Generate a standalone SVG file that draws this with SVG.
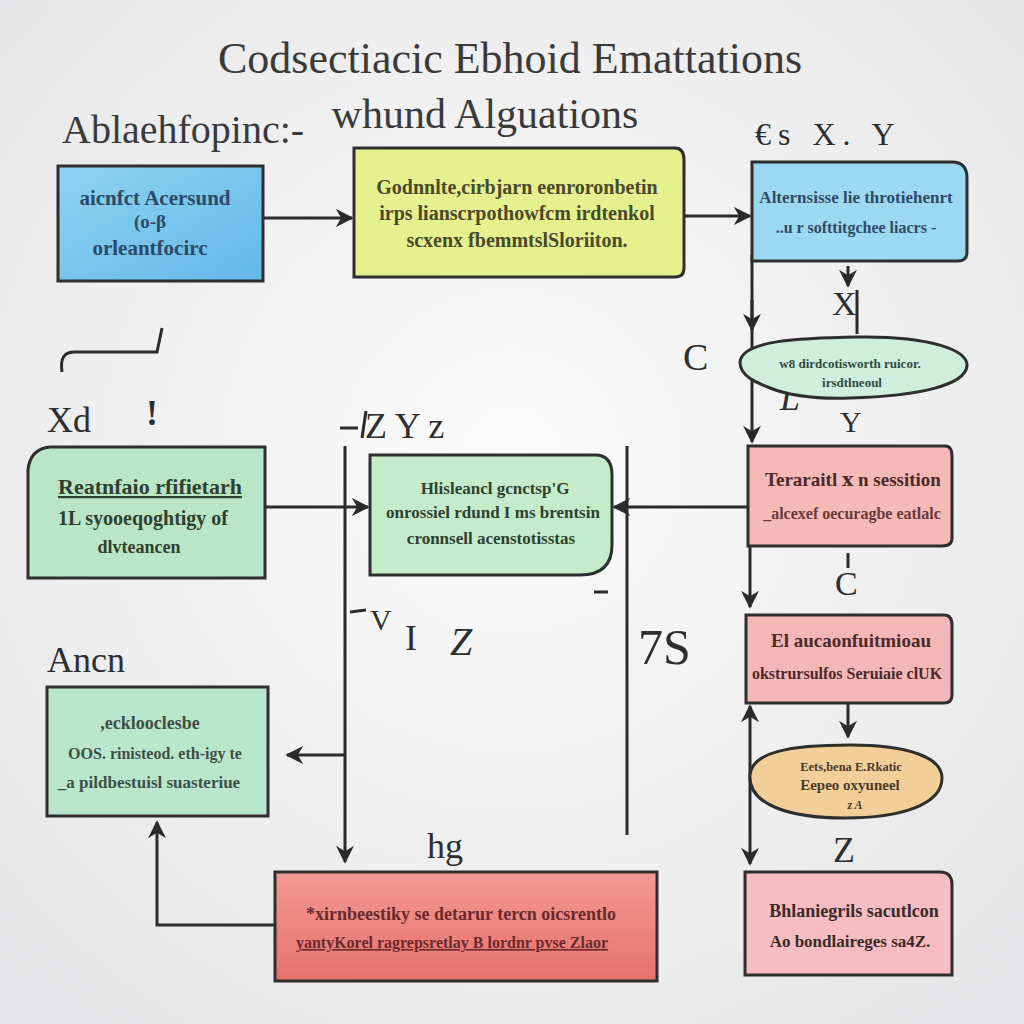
<svg xmlns="http://www.w3.org/2000/svg" width="1024" height="1024" viewBox="0 0 1024 1024">
<defs>
<radialGradient id="bg" cx="50%" cy="45%" r="70%"><stop offset="0" stop-color="#fbfbfb"/><stop offset="1" stop-color="#e6e6e8"/></radialGradient>
<linearGradient id="gBlue" x1="0" y1="0" x2="1" y2="1"><stop offset="0" stop-color="#8fd3f2"/><stop offset="1" stop-color="#62b8e8"/></linearGradient>
<linearGradient id="gRed" x1="0" y1="0" x2="0" y2="1"><stop offset="0" stop-color="#f29a94"/><stop offset="1" stop-color="#e8706c"/></linearGradient>
<marker id="ah" viewBox="0 0 10 10" refX="9" refY="5" markerWidth="6" markerHeight="6" orient="auto-start-reverse"><path d="M0,0 L10,5 L0,10 L3,5 z" fill="#2b2b2b"/></marker>
<marker id="av" viewBox="0 0 10 10" refX="9" refY="5" markerWidth="6" markerHeight="6" orient="auto-start-reverse"><path d="M0,0 L10,5 L0,10 L3,5 z" fill="#2b2b2b"/></marker>
</defs>
<style>
.t{font-family:"Liberation Serif","DejaVu Serif",serif;fill:#3a3a3a;}
.lab{fill:#2e2e2e;}
.nt{font-family:"Liberation Serif","DejaVu Serif",serif;font-weight:bold;text-anchor:middle;}
.bx{stroke:#2e2e2e;stroke-width:3;}
.c{fill:none;stroke:#2b2b2b;stroke-width:3;}
</style>
<rect width="1024" height="1024" fill="url(#bg)"/>

<g id="titles">
<text class="t" x="510" y="73" text-anchor="middle" font-size="44">Codsectiacic Ebhoid  Emattations</text>
<text class="t" x="485" y="128" text-anchor="middle" font-size="42">whund Alguations</text>
<text class="t" x="62" y="143" font-size="40">Ablaehfopinc:-</text>
</g>

<g id="labels">
<text class="t lab" x="755" y="145" font-size="32" letter-spacing="7">€s   X.   Y</text>
<text class="t lab" x="832" y="315" font-size="34">X</text>
<text class="t lab" x="683" y="370" font-size="38">C</text>
<text class="t lab" x="780" y="410" font-size="36" font-style="italic">L</text>
<text class="t lab" x="840" y="432" font-size="30">Y</text>
<text class="t lab" x="47" y="432" font-size="36">Xd</text>
<text class="t lab" x="146" y="425" font-size="36" font-weight="bold">!</text>
<text class="t lab" x="365" y="438" font-size="36">Z  Y  z</text>
<text class="t lab" x="370" y="630" font-size="30">V</text>
<text class="t lab" x="405" y="650" font-size="36">I</text>
<text class="t lab" x="450" y="655" font-size="40" font-style="italic">Z</text>
<text class="t lab" x="638" y="664" font-size="50">7S</text>
<text class="t lab" x="835" y="595" font-size="34">C</text>
<text class="t lab" x="833" y="862" font-size="36">Z</text>
<text class="t lab" x="427" y="858" font-size="36">hg</text>
<text class="t lab" x="47" y="672" font-size="36">Ancn</text>
</g>

<g id="connectors">
<line class="c" x1="263" y1="218" x2="352" y2="218" marker-end="url(#ah)"/>
<line class="c" x1="684" y1="216" x2="750" y2="216" marker-end="url(#ah)"/>
<line class="c" x1="752" y1="255" x2="752" y2="442" marker-end="url(#av)"/>
<line class="c" x1="752" y1="300" x2="752" y2="330" marker-end="url(#av)"/>
<line class="c" x1="848" y1="266" x2="848" y2="286" marker-end="url(#av)" stroke-width="2"/>
<line class="c" x1="857" y1="290" x2="857" y2="334" stroke-width="2"/>
<path class="c" d="M62,372 C60,358 64,352 75,352 L157,352 L162,328"/>
<line class="c" x1="340" y1="428" x2="358" y2="428" stroke-width="2"/>
<line class="c" x1="366" y1="411" x2="362" y2="438" stroke-width="3"/>
<line class="c" x1="265" y1="507" x2="368" y2="507" marker-end="url(#ah)"/>
<line class="c" x1="345" y1="446" x2="345" y2="862" marker-end="url(#av)"/>
<line class="c" x1="627" y1="446" x2="627" y2="835"/>
<line class="c" x1="748" y1="507" x2="614" y2="507" marker-end="url(#ah)"/>
<line class="c" x1="750" y1="546" x2="750" y2="607" marker-end="url(#av)"/>
<line class="c" x1="848" y1="553" x2="848" y2="568" stroke-width="2"/>
<line class="c" x1="848" y1="703" x2="848" y2="737" marker-end="url(#av)"/>
<line class="c" x1="750" y1="706" x2="750" y2="864" marker-start="url(#av)" marker-end="url(#av)"/>
<line class="c" x1="345" y1="755" x2="287" y2="755" marker-end="url(#ah)"/>
<path class="c" d="M275,925 L157,925 L157,822" marker-end="url(#av)"/>
<line class="c" x1="350" y1="612" x2="366" y2="610" stroke-width="2"/>
<line class="c" x1="594" y1="592" x2="608" y2="592" stroke-width="2"/>
</g>

<g id="n1">
<rect class="bx" x="58" y="166" width="205" height="115" fill="url(#gBlue)"/>
<text class="nt" x="155" y="205" fill="#2c4a66" font-size="21">aicnfct  Acersund</text>
<text class="nt" x="150" y="228" fill="#2c4a66" font-size="19">(o-β</text>
<text class="nt" x="150" y="255" fill="#2c4a66" font-size="21">orleantfocirc</text>
</g>
<g id="n2">
<path class="bx" d="M354,148 H675 Q684,148 684,160 V268 Q684,277 675,277 H354 Z" fill="#e5f08e"/>
<text class="nt" x="517" y="194" fill="#4a4a2a" font-size="20">Godnnlte,cirbjarn  eenroronbetin</text>
<text class="nt" x="517" y="220" fill="#4a4a2a" font-size="20">irps lianscrpothowfcm  irdtenkol</text>
<text class="nt" x="517" y="247" fill="#4a4a2a" font-size="20">scxenx fbemmtslSloriiton.</text>
</g>
<g id="n3">
<path class="bx" d="M752,162 H952 Q967,162 967,178 V252 Q967,261 958,261 H752 Z" fill="#9bd9f1"/>
<text class="nt" x="856" y="203" fill="#304a66" font-size="17">Alternsisse  lie  throtiehenrt</text>
<text class="nt" x="856" y="233" fill="#304a66" font-size="16">..u r softtitgchee  liacrs -</text>
</g>
<g id="n4">
<path class="bx" d="M740,362 C742,340 800,338 858,337 C930,336 968,350 967,366 C965,385 920,396 850,398 C820,399 790,396 770,388 C755,382 740,376 740,362 Z" fill="#cfeede"/>
<text class="nt" x="850" y="368" fill="#2f4a3f" font-size="13">w8 dirdcotisworth  ruicor.</text>
<text class="nt" x="852" y="387" fill="#2f4a3f" font-size="13">irsdtlneoul</text>
</g>
<g id="n5">
<path class="bx" d="M50,447 H265 V578 H28 V470 Q30,449 50,447 Z" fill="#b9e6c5"/>
<text class="nt" x="150" y="494" fill="#2f3f30" font-size="22" text-decoration="underline">Reatnfaio  rfifietarh</text>
<text class="nt" x="143" y="525" fill="#2f3f30" font-size="20">1L  syooeqoghtigy of</text>
<text class="nt" x="139" y="553" fill="#2f3f30" font-size="18">dlvteancen</text>
</g>
<g id="n6">
<path class="bx" d="M370,455 H595 Q612,455 612,475 V545 Q612,575 580,575 H370 Z" fill="#c5ecca"/>
<text class="nt" x="495" y="494" fill="#2f3f30" font-size="17">Hlisleancl gcnctsp'G</text>
<text class="nt" x="493" y="518" fill="#2f3f30" font-size="17">onrossiel rdund I ms brentsin</text>
<text class="nt" x="491" y="544" fill="#2f3f30" font-size="17">cronnsell  acenstotisstas</text>
</g>
<g id="n7">
<path class="bx" d="M748,446 H945 Q952,446 952,456 V538 Q952,546 942,546 H748 Z" fill="#f6b9b6"/>
<text class="nt" x="853" y="486" fill="#4a2a2a" font-size="19">Teraraitl  ⅹ n  sessition</text>
<text class="nt" x="852" y="519" fill="#6a3a3a" font-size="16">_alcexef  oecuragbe  eatlalc</text>
</g>
<g id="n8">
<path class="bx" d="M746,615 H944 Q952,615 952,625 V695 Q952,703 944,703 H746 Z" fill="#f5b6b6"/>
<text class="nt" x="851" y="647" fill="#4a2a2a" font-size="19">El  aucaonfuitmioau</text>
<text class="nt" x="847" y="679" fill="#4a2a2a" font-size="16">okstrursulfos  Seruiaie clUK</text>
</g>
<g id="n9">
<path class="bx" d="M750,775 C752,752 790,745 850,745 C910,745 942,758 942,778 C942,805 900,818 845,818 C790,818 748,805 750,775 Z" fill="#f2cf99"/>
<text class="nt" x="851" y="771" fill="#4a3a2a" font-size="12.5">Eets,bena  E.Rkatic</text>
<text class="nt" x="850" y="790" fill="#4a3a2a" font-size="15">Eepeo  oxyuneel</text>
<text class="nt" x="855" y="809" fill="#4a3a2a" font-size="12" font-style="italic">z A</text>
</g>
<g id="n10">
<path class="bx" d="M745,872 H940 Q952,872 952,885 V975 H745 Z" fill="#f7bdc2"/>
<text class="nt" x="854" y="917" fill="#3a2a2a" font-size="18">Bhlaniegrils  sacutlcon</text>
<text class="nt" x="850" y="947" fill="#3a2a2a" font-size="17">Ao  bondlaireges  sa4Z.</text>
</g>
<g id="n11">
<rect class="bx" x="47" y="687" width="221" height="129" fill="#b9e7cc"/>
<text class="nt" x="150" y="729" fill="#3f4f45" font-size="18">,ecklooclesbe</text>
<text class="nt" x="155" y="759" fill="#3f4f45" font-size="16">OOS. rinisteod.  eth-igy te</text>
<text class="nt" x="149" y="788" fill="#3f4f45" font-size="17">_a pildbestuisl  suasteriue</text>
</g>
<g id="n12">
<rect class="bx" x="275" y="872" width="382" height="109" fill="url(#gRed)"/>
<text class="nt" x="461" y="920" fill="#6a2a2a" font-size="18">*xirnbeestiky  se  detarur  tercn  oicsrentlo</text>
<text class="nt" x="452" y="948" fill="#6a2a2a" font-size="16" text-decoration="underline">yantyKorel  ragrepsretlay  B  lordnr  pvse  Zlaor</text>
</g>
</svg>
